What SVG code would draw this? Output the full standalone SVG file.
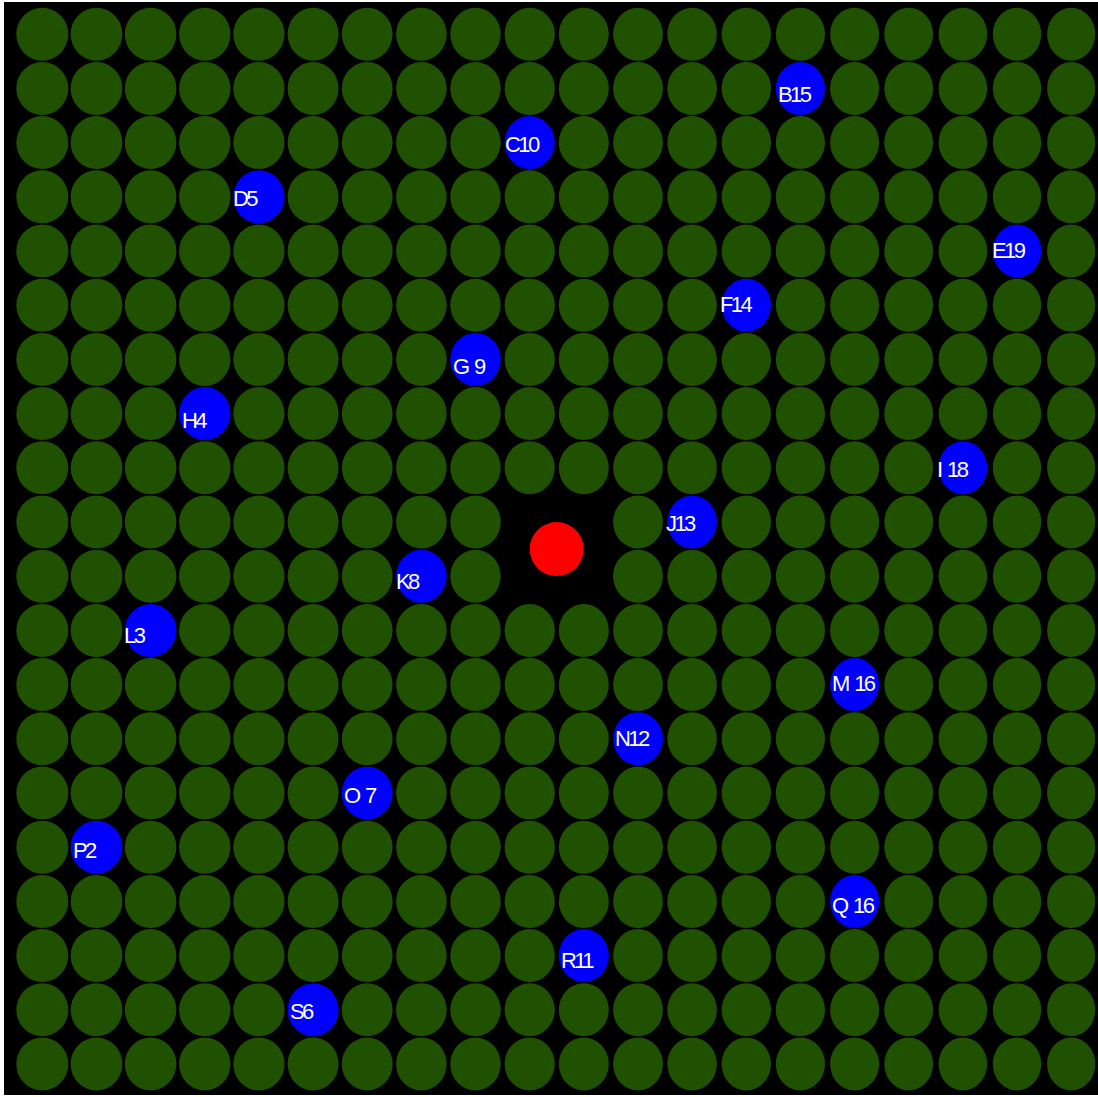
<svg xmlns="http://www.w3.org/2000/svg" xmlns:xlink="http://www.w3.org/1999/xlink" width="1098" height="1097" viewBox="0 0 1098 1097">
<style>
.g{fill:#1f5100}
.b{fill:#0000ff}
.r{fill:#ff0000}
.t{fill:#ffffff;font-family:"Liberation Sans",Arial,sans-serif;font-size:22px;letter-spacing:-2.6px;word-spacing:3px}
</style>
<defs>
<ellipse id="k0" cx="42.3" rx="26" ry="26.5"/>
<ellipse id="k1" cx="96.5" rx="25.9" ry="26.5"/>
<ellipse id="k2" cx="150.6" rx="25.8" ry="26.5"/>
<ellipse id="k3" cx="204.8" rx="25.7" ry="26.5"/>
<ellipse id="k4" cx="258.9" rx="25.6" ry="26.5"/>
<ellipse id="k5" cx="313.1" rx="25.5" ry="26.5"/>
<ellipse id="k6" cx="367.2" rx="25.4" ry="26.5"/>
<ellipse id="k7" cx="421.4" rx="25.3" ry="26.5"/>
<ellipse id="k8" cx="475.5" rx="25.2" ry="26.5"/>
<ellipse id="k9" cx="529.7" rx="25.1" ry="26.5"/>
<ellipse id="k10" cx="583.8" rx="25" ry="26.5"/>
<ellipse id="k11" cx="638" rx="24.9" ry="26.5"/>
<ellipse id="k12" cx="692.1" rx="24.8" ry="26.5"/>
<ellipse id="k13" cx="746.3" rx="24.7" ry="26.5"/>
<ellipse id="k14" cx="800.4" rx="24.6" ry="26.5"/>
<ellipse id="k15" cx="854.6" rx="24.5" ry="26.5"/>
<ellipse id="k16" cx="908.7" rx="24.4" ry="26.5"/>
<ellipse id="k17" cx="962.9" rx="24.3" ry="26.5"/>
<ellipse id="k18" cx="1017" rx="24.2" ry="26.5"/>
<ellipse id="k19" cx="1071.2" rx="24.1" ry="26.5"/>
</defs>
<rect x="4" y="2" width="1094" height="1093" fill="#000000"/>
<g id="grid" class="g">
<g transform="translate(0,34.2)"><use href="#k0"/><use href="#k1"/><use href="#k2"/><use href="#k3"/><use href="#k4"/><use href="#k5"/><use href="#k6"/><use href="#k7"/><use href="#k8"/><use href="#k9"/><use href="#k10"/><use href="#k11"/><use href="#k12"/><use href="#k13"/><use href="#k14"/><use href="#k15"/><use href="#k16"/><use href="#k17"/><use href="#k18"/><use href="#k19"/></g>
<g transform="translate(0,88.4)"><use href="#k0"/><use href="#k1"/><use href="#k2"/><use href="#k3"/><use href="#k4"/><use href="#k5"/><use href="#k6"/><use href="#k7"/><use href="#k8"/><use href="#k9"/><use href="#k10"/><use href="#k11"/><use href="#k12"/><use href="#k13"/><use href="#k15"/><use href="#k16"/><use href="#k17"/><use href="#k18"/><use href="#k19"/></g>
<g transform="translate(0,142.6)"><use href="#k0"/><use href="#k1"/><use href="#k2"/><use href="#k3"/><use href="#k4"/><use href="#k5"/><use href="#k6"/><use href="#k7"/><use href="#k8"/><use href="#k10"/><use href="#k11"/><use href="#k12"/><use href="#k13"/><use href="#k14"/><use href="#k15"/><use href="#k16"/><use href="#k17"/><use href="#k18"/><use href="#k19"/></g>
<g transform="translate(0,196.8)"><use href="#k0"/><use href="#k1"/><use href="#k2"/><use href="#k3"/><use href="#k5"/><use href="#k6"/><use href="#k7"/><use href="#k8"/><use href="#k9"/><use href="#k10"/><use href="#k11"/><use href="#k12"/><use href="#k13"/><use href="#k14"/><use href="#k15"/><use href="#k16"/><use href="#k17"/><use href="#k18"/><use href="#k19"/></g>
<g transform="translate(0,251)"><use href="#k0"/><use href="#k1"/><use href="#k2"/><use href="#k3"/><use href="#k4"/><use href="#k5"/><use href="#k6"/><use href="#k7"/><use href="#k8"/><use href="#k9"/><use href="#k10"/><use href="#k11"/><use href="#k12"/><use href="#k13"/><use href="#k14"/><use href="#k15"/><use href="#k16"/><use href="#k17"/><use href="#k19"/></g>
<g transform="translate(0,305.2)"><use href="#k0"/><use href="#k1"/><use href="#k2"/><use href="#k3"/><use href="#k4"/><use href="#k5"/><use href="#k6"/><use href="#k7"/><use href="#k8"/><use href="#k9"/><use href="#k10"/><use href="#k11"/><use href="#k12"/><use href="#k14"/><use href="#k15"/><use href="#k16"/><use href="#k17"/><use href="#k18"/><use href="#k19"/></g>
<g transform="translate(0,359.4)"><use href="#k0"/><use href="#k1"/><use href="#k2"/><use href="#k3"/><use href="#k4"/><use href="#k5"/><use href="#k6"/><use href="#k7"/><use href="#k9"/><use href="#k10"/><use href="#k11"/><use href="#k12"/><use href="#k13"/><use href="#k14"/><use href="#k15"/><use href="#k16"/><use href="#k17"/><use href="#k18"/><use href="#k19"/></g>
<g transform="translate(0,413.6)"><use href="#k0"/><use href="#k1"/><use href="#k2"/><use href="#k4"/><use href="#k5"/><use href="#k6"/><use href="#k7"/><use href="#k8"/><use href="#k9"/><use href="#k10"/><use href="#k11"/><use href="#k12"/><use href="#k13"/><use href="#k14"/><use href="#k15"/><use href="#k16"/><use href="#k17"/><use href="#k18"/><use href="#k19"/></g>
<g transform="translate(0,467.8)"><use href="#k0"/><use href="#k1"/><use href="#k2"/><use href="#k3"/><use href="#k4"/><use href="#k5"/><use href="#k6"/><use href="#k7"/><use href="#k8"/><use href="#k9"/><use href="#k10"/><use href="#k11"/><use href="#k12"/><use href="#k13"/><use href="#k14"/><use href="#k15"/><use href="#k16"/><use href="#k18"/><use href="#k19"/></g>
<g transform="translate(0,522)"><use href="#k0"/><use href="#k1"/><use href="#k2"/><use href="#k3"/><use href="#k4"/><use href="#k5"/><use href="#k6"/><use href="#k7"/><use href="#k8"/><use href="#k11"/><use href="#k13"/><use href="#k14"/><use href="#k15"/><use href="#k16"/><use href="#k17"/><use href="#k18"/><use href="#k19"/></g>
<g transform="translate(0,576.2)"><use href="#k0"/><use href="#k1"/><use href="#k2"/><use href="#k3"/><use href="#k4"/><use href="#k5"/><use href="#k6"/><use href="#k8"/><use href="#k11"/><use href="#k12"/><use href="#k13"/><use href="#k14"/><use href="#k15"/><use href="#k16"/><use href="#k17"/><use href="#k18"/><use href="#k19"/></g>
<g transform="translate(0,630.4)"><use href="#k0"/><use href="#k1"/><use href="#k3"/><use href="#k4"/><use href="#k5"/><use href="#k6"/><use href="#k7"/><use href="#k8"/><use href="#k9"/><use href="#k10"/><use href="#k11"/><use href="#k12"/><use href="#k13"/><use href="#k14"/><use href="#k15"/><use href="#k16"/><use href="#k17"/><use href="#k18"/><use href="#k19"/></g>
<g transform="translate(0,684.6)"><use href="#k0"/><use href="#k1"/><use href="#k2"/><use href="#k3"/><use href="#k4"/><use href="#k5"/><use href="#k6"/><use href="#k7"/><use href="#k8"/><use href="#k9"/><use href="#k10"/><use href="#k11"/><use href="#k12"/><use href="#k13"/><use href="#k14"/><use href="#k16"/><use href="#k17"/><use href="#k18"/><use href="#k19"/></g>
<g transform="translate(0,738.8)"><use href="#k0"/><use href="#k1"/><use href="#k2"/><use href="#k3"/><use href="#k4"/><use href="#k5"/><use href="#k6"/><use href="#k7"/><use href="#k8"/><use href="#k9"/><use href="#k10"/><use href="#k12"/><use href="#k13"/><use href="#k14"/><use href="#k15"/><use href="#k16"/><use href="#k17"/><use href="#k18"/><use href="#k19"/></g>
<g transform="translate(0,793)"><use href="#k0"/><use href="#k1"/><use href="#k2"/><use href="#k3"/><use href="#k4"/><use href="#k5"/><use href="#k7"/><use href="#k8"/><use href="#k9"/><use href="#k10"/><use href="#k11"/><use href="#k12"/><use href="#k13"/><use href="#k14"/><use href="#k15"/><use href="#k16"/><use href="#k17"/><use href="#k18"/><use href="#k19"/></g>
<g transform="translate(0,847.2)"><use href="#k0"/><use href="#k2"/><use href="#k3"/><use href="#k4"/><use href="#k5"/><use href="#k6"/><use href="#k7"/><use href="#k8"/><use href="#k9"/><use href="#k10"/><use href="#k11"/><use href="#k12"/><use href="#k13"/><use href="#k14"/><use href="#k15"/><use href="#k16"/><use href="#k17"/><use href="#k18"/><use href="#k19"/></g>
<g transform="translate(0,901.4)"><use href="#k0"/><use href="#k1"/><use href="#k2"/><use href="#k3"/><use href="#k4"/><use href="#k5"/><use href="#k6"/><use href="#k7"/><use href="#k8"/><use href="#k9"/><use href="#k10"/><use href="#k11"/><use href="#k12"/><use href="#k13"/><use href="#k14"/><use href="#k16"/><use href="#k17"/><use href="#k18"/><use href="#k19"/></g>
<g transform="translate(0,955.6)"><use href="#k0"/><use href="#k1"/><use href="#k2"/><use href="#k3"/><use href="#k4"/><use href="#k5"/><use href="#k6"/><use href="#k7"/><use href="#k8"/><use href="#k9"/><use href="#k11"/><use href="#k12"/><use href="#k13"/><use href="#k14"/><use href="#k15"/><use href="#k16"/><use href="#k17"/><use href="#k18"/><use href="#k19"/></g>
<g transform="translate(0,1009.8)"><use href="#k0"/><use href="#k1"/><use href="#k2"/><use href="#k3"/><use href="#k4"/><use href="#k6"/><use href="#k7"/><use href="#k8"/><use href="#k9"/><use href="#k10"/><use href="#k11"/><use href="#k12"/><use href="#k13"/><use href="#k14"/><use href="#k15"/><use href="#k16"/><use href="#k17"/><use href="#k18"/><use href="#k19"/></g>
<g transform="translate(0,1064)"><use href="#k0"/><use href="#k1"/><use href="#k2"/><use href="#k3"/><use href="#k4"/><use href="#k5"/><use href="#k6"/><use href="#k7"/><use href="#k8"/><use href="#k9"/><use href="#k10"/><use href="#k11"/><use href="#k12"/><use href="#k13"/><use href="#k14"/><use href="#k15"/><use href="#k16"/><use href="#k17"/><use href="#k18"/><use href="#k19"/></g>
</g>
<g id="connectors"/>
<g id="center"><circle class="r" cx="556.7" cy="549.1" r="27"/></g>
<g id="node-B15"><use href="#k14" y="88.4" class="b"/><text class="t" x="778" y="102">B15</text></g>
<g id="node-C10"><use href="#k9" y="142.6" class="b"/><text class="t" x="505" y="152">C10</text></g>
<g id="node-D5"><use href="#k4" y="196.8" class="b"/><text class="t" x="233" y="206">D5</text></g>
<g id="node-E19"><use href="#k18" y="251" class="b"/><text class="t" x="992" y="258">E19</text></g>
<g id="node-F14"><use href="#k13" y="305.2" class="b"/><text class="t" x="720" y="312">F14</text></g>
<g id="node-G9"><use href="#k8" y="359.4" class="b"/><text class="t" x="453" y="374">G 9</text></g>
<g id="node-H4"><use href="#k3" y="413.6" class="b"/><text class="t" x="182" y="428">H4</text></g>
<g id="node-I18"><use href="#k17" y="467.8" class="b"/><text class="t" x="937" y="477">I 18</text></g>
<g id="node-J13"><use href="#k12" y="522" class="b"/><text class="t" x="666" y="531">J13</text></g>
<g id="node-K8"><use href="#k7" y="576.2" class="b"/><text class="t" x="396" y="589">K8</text></g>
<g id="node-L3"><use href="#k2" y="630.4" class="b"/><text class="t" x="124" y="643">L3</text></g>
<g id="node-M16"><use href="#k15" y="684.6" class="b"/><text class="t" x="832" y="691">M 16</text></g>
<g id="node-N12"><use href="#k11" y="738.8" class="b"/><text class="t" x="615" y="746">N12</text></g>
<g id="node-O7"><use href="#k6" y="793" class="b"/><text class="t" x="344" y="803">O 7</text></g>
<g id="node-P2"><use href="#k1" y="847.2" class="b"/><text class="t" x="73" y="858">P2</text></g>
<g id="node-Q16"><use href="#k15" y="901.4" class="b"/><text class="t" x="832" y="913">Q 16</text></g>
<g id="node-R11"><use href="#k10" y="955.6" class="b"/><text class="t" x="561" y="968">R11</text></g>
<g id="node-S6"><use href="#k5" y="1009.8" class="b"/><text class="t" x="290" y="1019">S6</text></g>
</svg>
